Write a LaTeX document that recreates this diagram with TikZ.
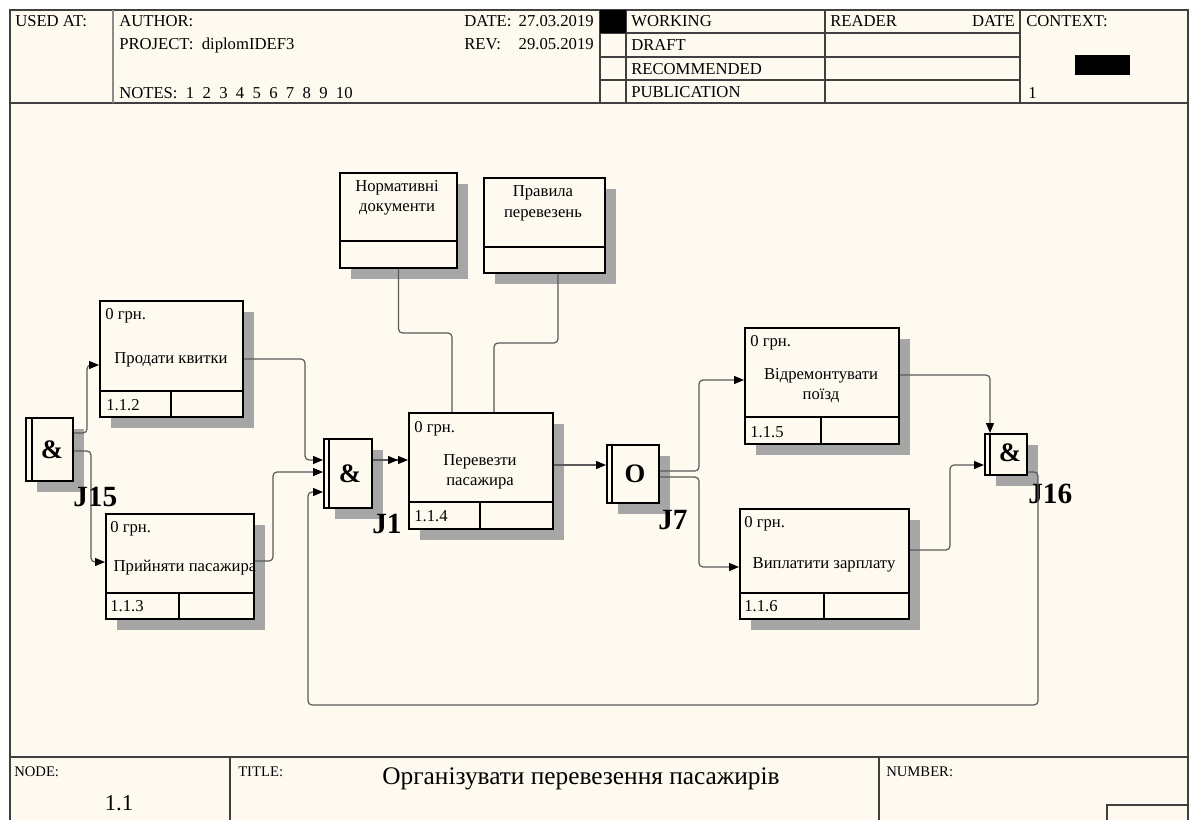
\documentclass[tikz,border=0pt]{standalone}
\usepackage{fontspec}
\setmainfont{Liberation Serif}
\usetikzlibrary{arrows.meta,shadows}
\definecolor{idefbg}{HTML}{FFFAF0}
\definecolor{linegray}{HTML}{5A5A5A}
\begin{document}
\begin{tikzpicture}[x=0.75pt, y=-0.75pt,
    every node/.style={font=\fontsize{12.5}{14}\selectfont, inner sep=0pt},
    hdrline/.style={draw=black!75, line width=1.1pt},
    txt/.style={anchor=base west},
    rtxt/.style={anchor=base east},
    ctxt/.style={anchor=base},
    boxsize/.style 2 args={minimum width=#1*0.75pt, minimum height=#2*0.75pt, anchor=north west},
    actbox/.style={draw, line width=1.5pt, fill=idefbg,
        drop shadow={shadow xshift=8.25pt, shadow yshift=-8.25pt, fill=black!35, opacity=1}},
    divline/.style={line width=1.5pt},
    jsym/.style={font=\fontsize{20}{22}\selectfont\bfseries},
    jlabel/.style={font=\fontsize{22}{24}\selectfont\bfseries, anchor=base west},
    ctrl/.style={draw=linegray, line width=0.9pt, rounded corners=3pt},
    flow/.style={ctrl, -{Triangle[length=7.5pt,width=6pt,color=black]}},
    dflow/.style={ctrl, -{Triangle[length=7.5pt,width=6pt,color=black]Triangle[length=7.5pt,width=6pt,color=black]}}]
  \useasboundingbox (0,0) rectangle (1191,820);
  \fill[white] (0,0) rectangle (1191,820);
  \fill[idefbg] (10,10) rectangle (1188,820);
  % header
  \draw[hdrline] (10,820) -- (10,10) -- (1188,10) -- (1188,820);
  \draw[hdrline] (10,103) -- (1188,103);
  \draw[draw=black!45, line width=2pt] (113,10) -- (113,103);
  \foreach \x in {600,626,825,1020} \draw[hdrline] (\x,10) -- (\x,103);
  \foreach \y in {33,57,80} \draw[hdrline] (600,\y) -- (1020,\y);
  \fill (600,10) rectangle (626,33);
  \fill (1075,55) rectangle (1130,75);
  \node[txt] (usedat) at (15,27) {USED AT:};
  \node[txt] (author) at (119,27) {AUTHOR:};
  \node[txt] (project) at (119,50) {PROJECT:\ \ diplomIDEF3};
  \node[txt] (notes) at (119,99) {NOTES:\ \ 1\ \ 2\ \ 3\ \ 4\ \ 5\ \ 6\ \ 7\ \ 8\ \ 9\ \ 10};
  \node[txt] (date) at (464,27) {DATE:};
  \node[rtxt] (dateval) at (594,27) {27.03.2019};
  \node[txt] (rev) at (464,50) {REV:};
  \node[rtxt] (revval) at (594,50) {29.05.2019};
  \node[txt] (working) at (631,27) {WORKING};
  \node[txt] (draft) at (631,51) {DRAFT};
  \node[txt] (recommended) at (631,75) {RECOMMENDED};
  \node[txt] (publication) at (631,98) {PUBLICATION};
  \node[txt] (reader) at (830,27) {READER};
  \node[rtxt] (readerdate) at (1015,27) {DATE};
  \node[txt] (context) at (1026,27) {CONTEXT:};
  \node[txt] (contextno) at (1028,99) {1};
  % footer
  \draw[hdrline] (10,757) -- (1188,757);
  \draw[hdrline] (230,757) -- (230,820);
  \draw[hdrline] (879,757) -- (879,820);
  \draw[hdrline] (1107,820) -- (1107,805) -- (1188,805);
  \node[txt, font=\fontsize{11}{13}\selectfont] (nodelbl) at (14,776) {NODE:};
  \node[ctxt, font=\fontsize{17}{20}\selectfont] (nodeno) at (119,810) {1.1};
  \node[txt, font=\fontsize{11}{13}\selectfont] (titlelbl) at (238,776) {TITLE:};
  \node[ctxt, font=\fontsize{19}{22}\selectfont] (title) at (581,784) {Організувати перевезення пасажирів};
  \node[txt, font=\fontsize{11}{13}\selectfont] (numberlbl) at (886,776) {NUMBER:};
  % activity boxes
  \node[actbox, boxsize={143}{116}] (sell) at (99,300) {};
  \draw[divline] (sell.west |- 0,391) -- (sell.east |- 0,391) (171,391) -- (sell.south -| 171,0);
  \node[txt] (sellcost) at (105,319) {0 грн.};
  \node[ctxt] (selltxt) at (171,363) {Продати квитки};
  \node[txt] (sellno) at (106,410) {1.1.2};
  \node[actbox, boxsize={148}{105}] (accept) at (105,513) {};
  \draw[divline] (accept.west |- 0,593) -- (accept.east |- 0,593) (179,593) -- (accept.south -| 179,0);
  \node[txt] (acceptcost) at (110,532) {0 грн.};
  \node[ctxt] (accepttxt) at (185,571) {Прийняти пасажира};
  \node[txt] (acceptno) at (110,611) {1.1.3};
  \node[actbox, boxsize={144}{116}] (carry) at (408,412) {};
  \draw[divline] (carry.west |- 0,502) -- (carry.east |- 0,502) (480,502) -- (carry.south -| 480,0);
  \node[txt] (carrycost) at (414,432) {0 грн.};
  \node[ctxt] (carrytxa) at (480,465) {Перевезти};
  \node[ctxt] (carrytxb) at (480,485) {пасажира};
  \node[txt] (carryno) at (414,521) {1.1.4};
  \node[actbox, boxsize={117}{95}] (norms) at (339,172) {};
  \draw[divline] (norms.west |- 0,241) -- (norms.east |- 0,241);
  \node[ctxt] (normstxa) at (397,191) {Нормативні};
  \node[ctxt] (normstxb) at (397,211) {документи};
  \node[actbox, boxsize={121}{95}] (rules) at (483,177) {};
  \draw[divline] (rules.west |- 0,247) -- (rules.east |- 0,247);
  \node[ctxt] (rulestxa) at (543,196) {Правила};
  \node[ctxt] (rulestxb) at (543,217) {перевезень};
  \node[actbox, boxsize={154}{116}] (repair) at (744,327) {};
  \draw[divline] (repair.west |- 0,417) -- (repair.east |- 0,417) (821,417) -- (repair.south -| 821,0);
  \node[txt] (repaircost) at (750,346) {0 грн.};
  \node[ctxt] (repairtxa) at (821,379) {Відремонтувати};
  \node[ctxt] (repairtxb) at (821,399) {поїзд};
  \node[txt] (repairno) at (750,437) {1.1.5};
  \node[actbox, boxsize={169}{110}] (pay) at (739,508) {};
  \draw[divline] (pay.west |- 0,593) -- (pay.east |- 0,593) (824,593) -- (pay.south -| 824,0);
  \node[txt] (paycost) at (744,527) {0 грн.};
  \node[ctxt] (paytxt) at (824,568) {Виплатити зарплату};
  \node[txt] (payno) at (744,611) {1.1.6};
  % junctions
  \node[actbox, boxsize={47}{63}] (j15) at (25,417) {};
  \draw[divline] (j15.north -| 32,0) -- (j15.south -| 32,0);
  \node[jsym] (j15sym) at (52,450) {\&};
  \node[jlabel] (j15lbl) at (73,506) {J15};
  \node[actbox, boxsize={48}{69}] (j1) at (323,438) {};
  \draw[divline] (j1.north -| 329,0) -- (j1.south -| 329,0);
  \node[jsym] (j1sym) at (350,474) {\&};
  \node[jlabel] (j1lbl) at (372,533) {J1};
  \node[actbox, boxsize={52}{58}] (j7) at (606,444) {};
  \draw[divline] (j7.north -| 612,0) -- (j7.south -| 612,0);
  \node[jsym] (j7sym) at (635,474) {O};
  \node[jlabel] (j7lbl) at (658,529) {J7};
  \node[actbox, boxsize={42}{41}] (j16) at (984,433) {};
  \draw[divline] (j16.north -| 990,0) -- (j16.south -| 990,0);
  \node[jsym] (j16sym) at (1010,453) {\&};
  \node[jlabel] (j16lbl) at (1028,503) {J16};
  % arrows
  \draw[flow] (j15.east |- 0,433) -- ++(13,0) |- (sell.west |- 0,365);
  \draw[flow] (j15.east |- 0,451) -- ++(17,0) |- (accept.west |- 0,562);
  \draw[flow] (sell.east |- 0,359) -- ++(61,0) |- (j1.west |- 0,460);
  \draw[flow] (accept.east |- 0,561) -- ++(18,0) |- (j1.west |- 0,472);
  \coordinate (loopcorner) at (308,705);
  \draw[flow] (j16.east |- 0,472) -| (1038,705) -- (loopcorner) |- (j1.west |- 0,492);
  \draw[dflow] (j1.east |- 0,460) -- (carry.west |- 0,460);
  \draw[ctrl] (norms.south) |- (452,333) -- (carry.north -| 452,0);
  \draw[ctrl] (rules.south -| 558,0) |- (494,343) -- (carry.north -| 494,0);
  \draw[flow] (carry.east |- 0,465) -- (j7.west |- 0,465);
  \draw[flow] (j7.east |- 0,471) -- ++(39,0) |- (repair.west |- 0,380);
  \draw[flow] (j7.east |- 0,477) -- ++(39,0) |- (pay.west |- 0,567);
  \draw[flow] (repair.east |- 0,375) -| (j16.north -| 990,0);
  \draw[flow] (pay.east |- 0,550) -- ++(40,0) |- (j16.west |- 0,465);
\end{tikzpicture}
\end{document}
